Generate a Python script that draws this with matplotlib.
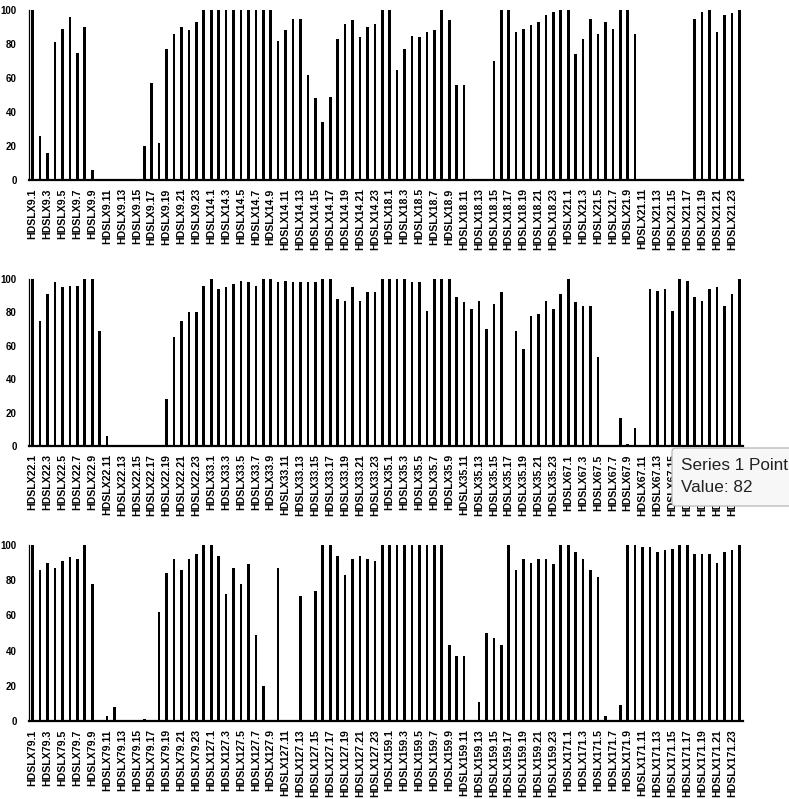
import matplotlib
matplotlib.use("Agg")
import matplotlib.pyplot as plt
from matplotlib.patches import FancyBboxPatch

plt.rcParams['font.family'] = ['Liberation Sans', 'DejaVu Sans']

suffixes = list(range(1, 25))

groups1 = [9, 14, 18, 21]
values1 = [100, 26, 16, 81, 89, 96, 75, 90, 6, 0, 0, 0, 0, 0, 0, 20, 57, 22, 77, 86, 90, 88, 93, 100,
           100, 100, 100, 100, 100, 100, 100, 100, 100, 82, 88, 95, 95, 62, 48, 34, 49, 83, 92, 94, 84, 90, 92, 100,
           100, 65, 77, 85, 84, 87, 88, 100, 94, 56, 56, 0, 0, 0, 70, 100, 100, 87, 89, 91, 93, 97, 99, 100,
           100, 74, 83, 95, 86, 93, 89, 100, 100, 86, 0, 0, 0, 0, 0, 0, 0, 95, 99, 100, 87, 97, 98, 100]

groups2 = [22, 33, 35, 67]
values2 = [100, 75, 91, 98, 95, 96, 96, 100, 100, 69, 6, 0, 0, 0, 0, 0, 0, 0, 28, 65, 75, 80, 80, 96,
           100, 94, 95, 97, 99, 98, 96, 100, 100, 98, 99, 98, 98, 98, 98, 100, 100, 88, 87, 95, 87, 92, 92, 100,
           100, 100, 100, 98, 98, 81, 100, 100, 100, 89, 86, 82, 87, 70, 85, 92, 0, 69, 58, 78, 79, 87, 82, 91,
           100, 86, 84, 84, 53, 0, 0, 17, 1, 11, 0, 94, 93, 94, 81, 100, 99, 89, 87, 94, 95, 84, 91, 100]

groups3 = [79, 127, 159, 171]
values3 = [100, 86, 90, 87, 91, 93, 92, 100, 78, 0, 3, 8, 0, 0, 0, 1, 0, 62, 84, 92, 86, 92, 95, 100,
           100, 94, 72, 87, 78, 89, 49, 20, 0, 87, 0, 0, 71, 0, 74, 100, 100, 94, 83, 92, 94, 92, 91, 100,
           100, 100, 100, 100, 100, 100, 100, 100, 43, 37, 37, 0, 11, 50, 47, 43, 100, 86, 92, 90, 92, 92, 89, 100,
           100, 96, 92, 86, 82, 3, 0, 9, 100, 100, 99, 99, 96, 97, 98, 100, 100, 95, 95, 95, 90, 96, 97, 100]

yticks = [0, 20, 40, 60, 80, 100]
tooltip_series = "Series 1 Point"
tooltip_value = "Value: 82"

W, H = 789, 799
fig = plt.figure(figsize=(W / 100, H / 100), dpi=100)

panels = [
    (groups1, values1, 10, 180),
    (groups2, values2, 279, 446),
    (groups3, values3, 545, 721),
]
left_px, right_px = 29, 743

for groups, values, top_px, bot_px in panels:
    ax = fig.add_axes([left_px / W, 1 - bot_px / H, (right_px - left_px) / W, (bot_px - top_px) / H])
    cats = [f"HDSLX{g}.{s}" for g in groups for s in suffixes]
    x = list(range(len(cats)))
    ax.bar(x, values, width=0.36, color='black', linewidth=0)
    ax.set_xlim(-0.5, len(cats) - 0.5)
    ax.set_ylim(0, 100)
    ax.set_xticks(x[::2])
    ax.set_xticklabels(cats[::2], rotation=90, fontsize=7.6, fontweight='bold')
    ax.set_yticks(yticks)
    ax.set_yticklabels([str(v) for v in yticks], fontsize=7, fontweight='bold')
    ax.tick_params(axis='both', length=0)
    ax.tick_params(axis='x', pad=6)
    ax.tick_params(axis='y', pad=9)
    for s in ['top', 'right']:
        ax.spines[s].set_visible(False)
    ax.spines['bottom'].set_linewidth(1.6)
    ax.spines['left'].set_linewidth(0.9)

# hover tooltip in the screenshot
box = FancyBboxPatch((672 / W, 1 - 506 / H), 130 / W, 58 / H,
                     boxstyle="round,pad=0,rounding_size=0.005",
                     transform=fig.transFigure, facecolor='#f7f7f7',
                     edgecolor='#bdbdbd', linewidth=1.0, zorder=10)
fig.patches.append(box)
fig.text(681 / W, 1 - 465 / H, tooltip_series, fontsize=12.3, color='#222222',
         va='center', ha='left', zorder=11, family=['Liberation Sans', 'DejaVu Sans'])
fig.text(681 / W, 1 - 488 / H, tooltip_value, fontsize=12.3, color='#222222',
         va='center', ha='left', zorder=11, family=['Liberation Sans', 'DejaVu Sans'])

fig.savefig("out.png", dpi=100)
